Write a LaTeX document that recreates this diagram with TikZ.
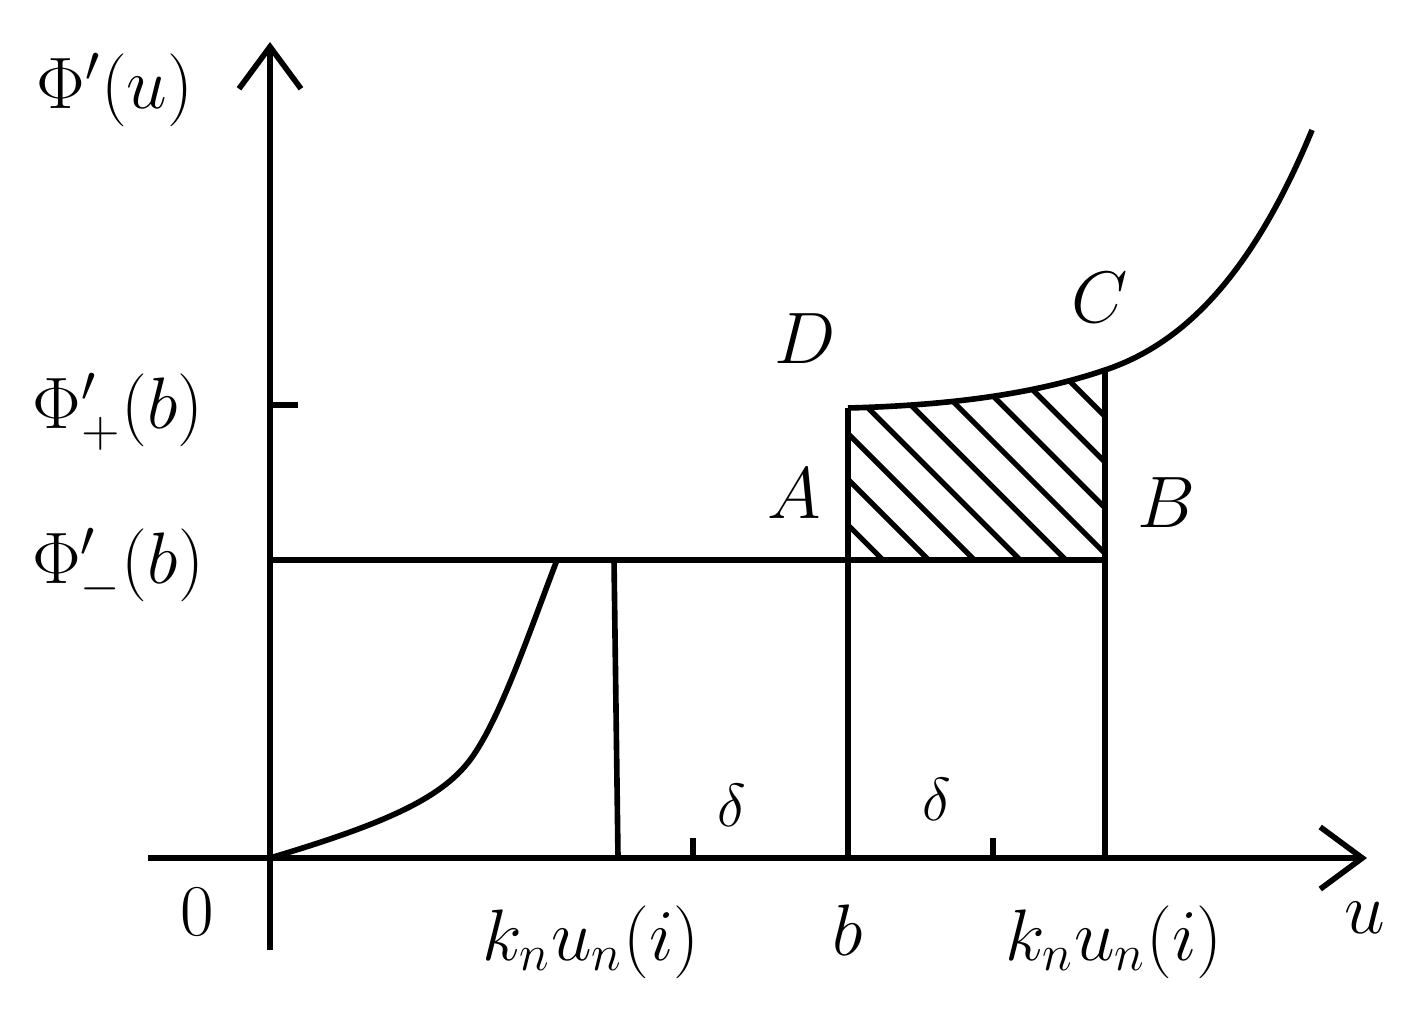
\documentclass[tikz,border=0pt]{standalone}
\usepackage{amsmath}
\usepackage{tikz}
\usetikzlibrary{arrows.meta,calc}

\begin{document}
\begin{tikzpicture}[x=0.01cm,y=-0.01cm,
    line width=1.6pt,
    axis/.style={-{Straight Barb[length=4.2mm,width=6.2mm,line width=1.6pt]}},
    lbl/.style={anchor=base,font=\fontsize{20.74}{24}\selectfont},
    small lbl/.style={anchor=base,font=\fontsize{17.28}{20}\selectfont}]
  \useasboundingbox (0,0) rectangle (1404,1014);
  % points
  \coordinate (O) at (270,858);
  \coordinate (ybot) at (270,950);
  \coordinate (ytop) at (270,42);
  \coordinate (xleft) at (148,858);
  \coordinate (xright) at (1367,858);
  \coordinate (lvl) at (270,560);
  \coordinate (kink) at (557,560);
  \coordinate (A) at (848,560);
  \coordinate (D) at (848,408);
  \coordinate (B) at (1105,560);
  \coordinate (C) at (1105,370);
  \coordinate (top) at (1312,130);
  % axes
  \draw[axis] (ybot) -- (ytop);
  \draw[axis] (xleft) -- (xright);
  \draw (270,405) -- (298,405);
  \draw (693,858) -- (693,838);
  \draw (993,858) -- (993,838);
  % level line and verticals
  \draw (lvl) -- (B);
  \draw (614,560) -- (618,858);
  \draw (D) -- (848,858);
  \draw (C) -- (1105,858);
  % curves
  \draw (O) .. controls (380,825) and (440,800) .. (470,760)
            .. controls (500,720) and (530,630) .. (kink);
  \draw (D) .. controls (960,405) and (1040,392) .. (C)
            .. controls (1180,345) and (1250,280) .. (top);
  % hatching
  \begin{scope}
    \clip (A) -- (D) .. controls (960,405) and (1040,392) .. (C) -- (B) -- cycle;
    \foreach \k in {0,...,8}
      \draw[line width=1.5pt] ({323+45.7*\k+300},300) -- ({323+45.7*\k+650},650);
  \end{scope}
  % labels
  \node[lbl] (phiu) at (115,108) {$\Phi'(u)$};
  \node[lbl] (phip) at (118,428) {$\Phi'_+(b)$};
  \node[lbl] (phim) at (118,583) {$\Phi'_-(b)$};
  \node[lbl] (zero) at (197,935) {$0$};
  \node[lbl] (k1) at (591,960) {$k_nu_n(i)$};
  \node[lbl] (bb) at (848,955) {$b$};
  \node[lbl] (k2) at (1114,960) {$k_nu_n(i)$};
  \node[lbl] (uu) at (1365,933) {$u$};
  \node[small lbl] (d1) at (732,826) {$\delta$};
  \node[small lbl] (d2) at (937,820) {$\delta$};
  \node[lbl] (lA) at (794,518) {$A$};
  \node[lbl] (lB) at (1166,527) {$B$};
  \node[lbl] (lC) at (1100,322) {$C$};
  \node[lbl] (lD) at (805,363) {$D$};
\end{tikzpicture}
\end{document}
